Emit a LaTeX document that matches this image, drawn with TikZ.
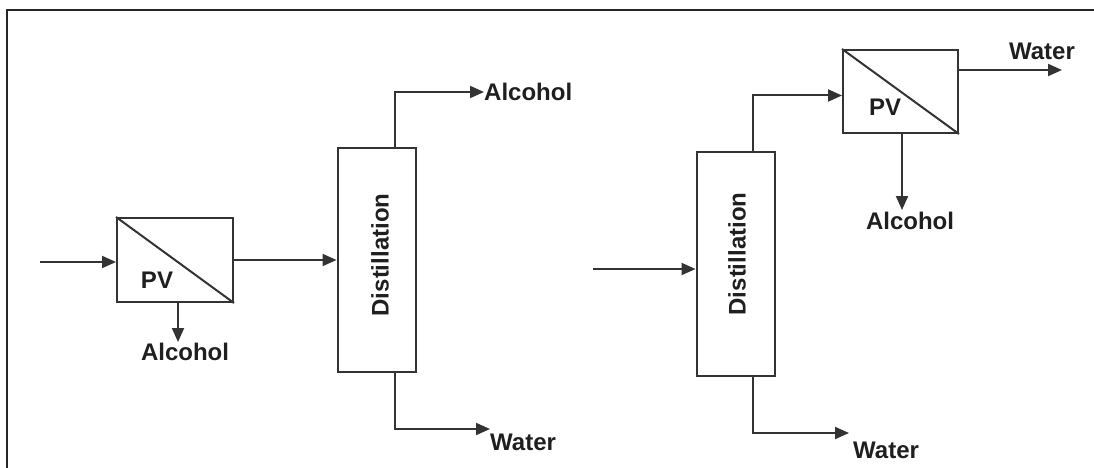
\documentclass[tikz,border=0pt]{standalone}
\usepackage{fontspec}
\setmainfont{Liberation Sans}
\usetikzlibrary{arrows.meta, positioning}
\definecolor{ink}{HTML}{333333}
\tikzset{
  unit/.style={draw=ink, line width=2pt, fill=white, inner sep=0pt},
  pvbox/.style={unit, minimum width=116pt, minimum height=84pt},
  column/.style={unit, minimum width=78pt, minimum height=224pt},
  flow/.style={draw=ink, line width=2pt, -{Triangle[length=14pt,width=12pt]}},
  pipe/.style={draw=ink, line width=2pt},
  lbl/.style={font=\bfseries\fontsize{24}{28}\selectfont, text=black!88, inner sep=0pt},
}
\begin{document}
\begin{tikzpicture}[x=1pt, y=-1pt]
      \useasboundingbox (0,0) rectangle (1094,468);
      \draw[line width=2.6pt, black!85] (7,468) -- (7,10) -- (1094,10);
      % left scheme: PV before distillation
      \node[pvbox] (pvA) at (175,260) {};
      \draw[pipe] (pvA.north west) -- (pvA.south east);
      \node[lbl] (pvAtxt) at (157,280) {PV};
      \node[column] (distA) at (376.5,260) {};
      \node[lbl, rotate=90] (distAtxt) at (380,255) {Distillation};
      \coordinate (inA) at (40,262);
      \coordinate (downA) at (178,342);
      \coordinate (botA) at (490,429);
      \node[lbl, anchor=west] (alcAtop) at (484,92) {Alcohol};
      \node[lbl] (alcA) at (185,352) {Alcohol};
      \node[lbl, anchor=west] (watA) at (490,442) {Water};
      \draw[flow] (inA) -- (inA -| pvA.west);
      \draw[flow] (pvA.east) -- (pvA.east -| distA.west);
      \draw[flow] (downA |- pvA.south) -- (downA);
      \draw[flow] ([xshift=18pt]distA.north) |- (alcAtop.west);
      \draw[flow] ([xshift=18pt]distA.south) |- (botA);
      % right scheme: PV on the top product
      \node[column] (distB) at (735.5,264) {};
      \node[lbl, rotate=90] (distBtxt) at (737,254) {Distillation};
      \node[pvbox, minimum width=115pt, minimum height=83pt] (pvB) at (900.5,91.5) {};
      \draw[pipe] (pvB.north west) -- (pvB.south east);
      \node[lbl] (pvBtxt) at (885,107) {PV};
      \coordinate (inB) at (593,269);
      \coordinate (botB) at (849,433);
      \coordinate (outB) at (1062,70);
      \coordinate (downB) at (902,210);
      \node[lbl, anchor=west] (watB) at (853,450) {Water};
      \node[lbl] (watBtop) at (1042,51) {Water};
      \node[lbl] (alcB) at (910,221) {Alcohol};
      \draw[flow] (inB) -- (inB -| distB.west);
      \draw[flow] ([xshift=17.5pt]distB.north) |- ([yshift=-4pt]pvB.west);
      \draw[flow] ([xshift=17.5pt]distB.south) |- (botB);
      \draw[flow] (outB -| pvB.east) -- (outB);
      \draw[flow] (downB |- pvB.south) -- (downB);
\end{tikzpicture}
\end{document}
